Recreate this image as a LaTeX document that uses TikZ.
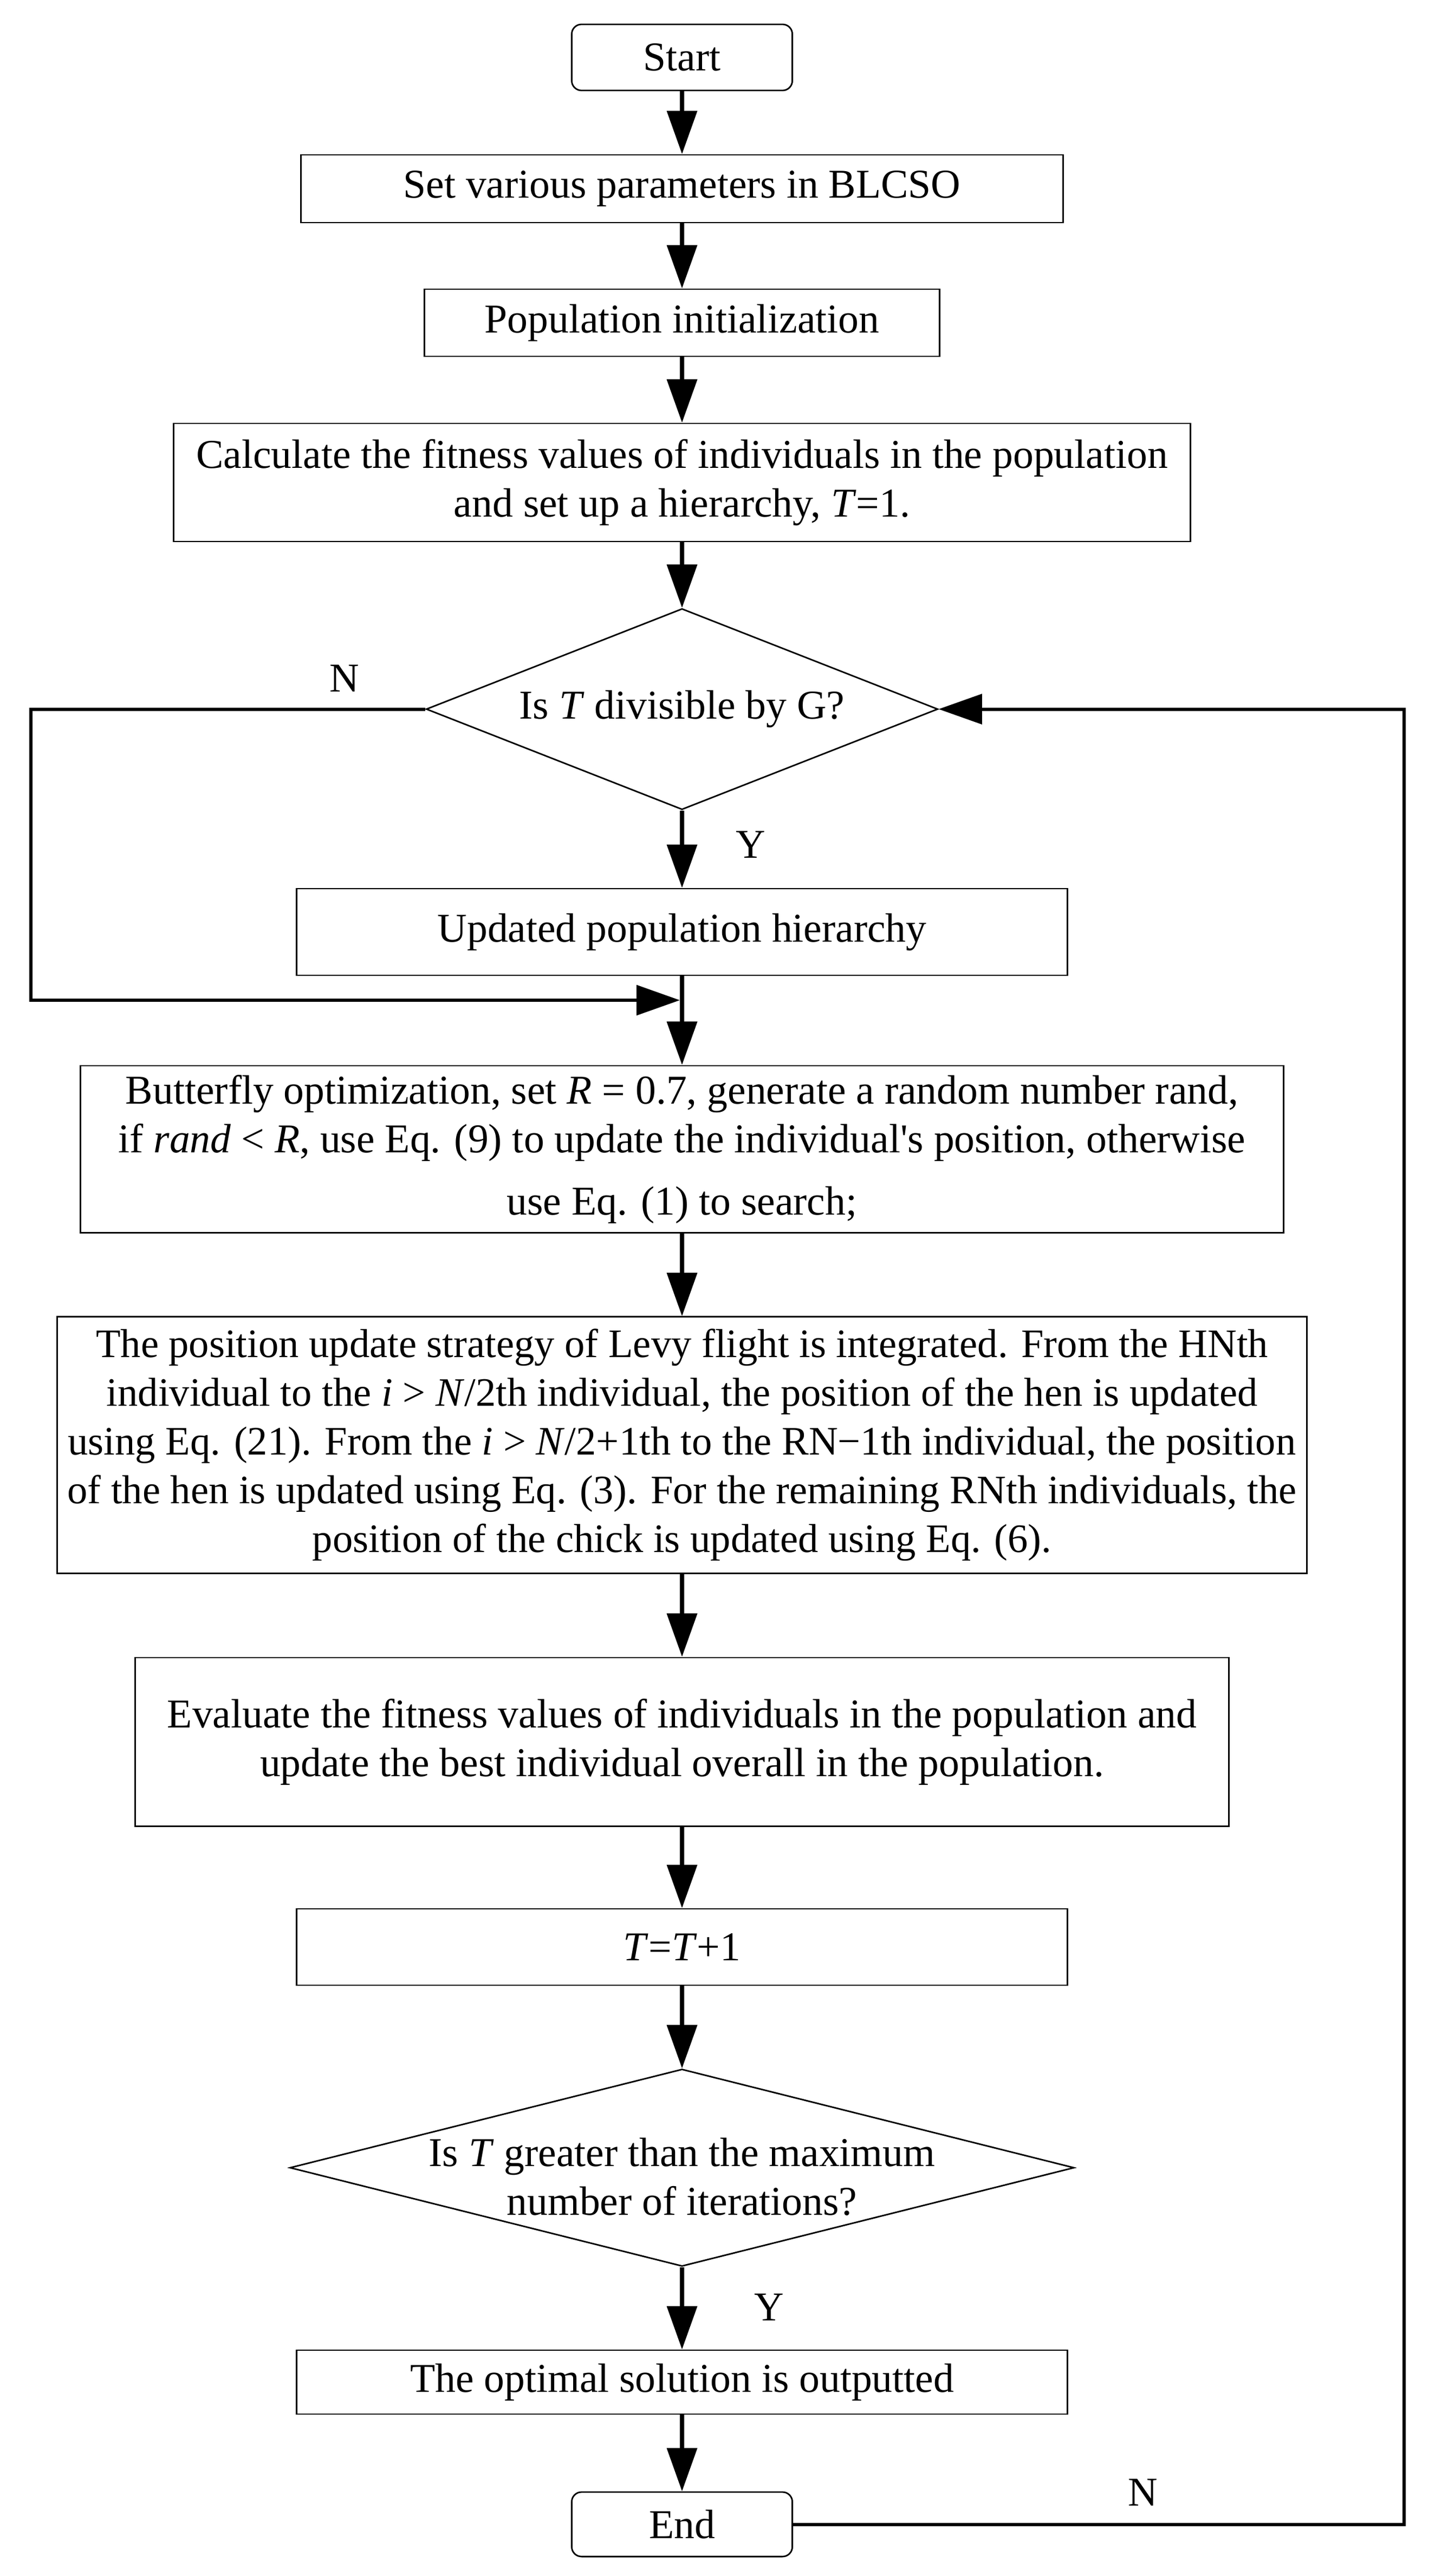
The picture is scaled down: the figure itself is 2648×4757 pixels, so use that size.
\documentclass[tikz,border=0pt]{standalone}
\usepackage{fontspec}
\setmainfont{Liberation Serif}
\usetikzlibrary{arrows.meta}
\usetikzlibrary{shapes.geometric}

\tikzset{
  box/.style={draw, line width=0.8pt, inner sep=0pt, align=center,
    font=\fontsize{21.5}{25.6}\selectfont},
  term/.style={box, rounded corners=0.18cm, minimum width=4.07cm},
  decide/.style={draw, line width=0.8pt, shape=diamond, inner sep=0pt},
  txt/.style={inner sep=0pt, align=center, font=\fontsize{21.5}{25.6}\selectfont},
  flow/.style={line width=2pt, -{Triangle[length=0.8cm,width=0.55cm]}},
  back/.style={line width=1.7pt, -{Triangle[length=0.8cm,width=0.55cm]}},
}

\begin{document}
\begin{tikzpicture}[x=0.01cm,y=0.01cm]
  \useasboundingbox (0,0) rectangle (2648,-4757);
  \path (1259,-106)
    node (start) [term, minimum height=1.22cm] {Start} ++(0,-242.5)
    node (par) [box, minimum width=14.06cm, minimum height=1.25cm]
      {Set various parameters in BLCSO} ++(0,-247.5)
    node (init) [box, minimum width=9.51cm, minimum height=1.24cm]
      {Population initialization} ++(0,-295)
    node (fit) [box, minimum width=18.76cm, minimum height=2.18cm]
      {Calculate the fitness values of individuals in the population\\
       and set up a hierarchy, \textit{T}=1.} ++(0,-418.5)
    node (div) [decide, minimum width=9.44cm, minimum height=3.71cm] {} ++(0,-411.5)
    node (hier) [box, minimum width=14.22cm, minimum height=1.60cm]
      {Updated population hierarchy} ++(0,-401)
    node (bfly) [box, minimum width=22.20cm, minimum height=3.08cm]
      {Butterfly optimization, set \textit{R} = 0.7, generate a random number rand,\\
       if \textit{rand} < \textit{R}, use Eq. (9) to update the individual\textquotesingle s position, otherwise\\[0.25cm]
       use Eq. (1) to search;} ++(0,-546.5)
    node (levy) [box, minimum width=23.05cm, minimum height=4.73cm,
      font=\fontsize{21.2}{25.6}\selectfont]
      {The position update strategy of Levy flight is integrated. From the HNth\\
       individual to the \textit{i} > \textit{N}/2th individual, the position of the hen is updated\\
       using Eq. (21). From the \textit{i} > \textit{N}/2+1th to the RN−1th individual, the position\\
       of the hen is updated using Eq. (3). For the remaining RNth individuals, the\\
       position of the chick is updated using Eq. (6).} ++(0,-548)
    node (eval) [box, minimum width=20.18cm, minimum height=3.11cm]
      {Evaluate the fitness values of individuals in the population and\\
       update the best individual overall in the population.} ++(0,-379)
    node (inc) [box, minimum width=14.22cm, minimum height=1.41cm]
      {\textit{T}=\textit{T}+1} ++(0,-407.5)
    node (max) [decide, minimum width=14.47cm, minimum height=3.64cm] {} ++(0,-396)
    node (out) [box, minimum width=14.22cm, minimum height=1.18cm]
      {The optimal solution is outputted} ++(0,-262.5)
    node (end) [term, minimum height=1.19cm] {End}
    ;
  \node (divtxt) [txt] at (div) {Is \textit{T} divisible by G?};
  \node (maxtxt) [txt] at ([yshift=-0.17cm]max.center)
    {Is \textit{T} greater than the maximum\\ number of iterations?};

  \draw[flow] (start) -- (par);
  \draw[flow] (par) -- (init);
  \draw[flow] (init) -- (fit);
  \draw[flow] (fit) -- (div);
  \draw[flow] (div) -- (hier);
  \draw[flow] (hier) -- (bfly);
  \draw[flow] (bfly) -- (levy);
  \draw[flow] (levy) -- (eval);
  \draw[flow] (eval) -- (inc);
  \draw[flow] (inc) -- (max);
  \draw[flow] (max) -- (out);
  \draw[flow] (out) -- (end);

  % N branch of the first test joins the main line
  \path (57,-1847) coordinate (lft);
  \path (1255,-1847) coordinate (join);
  \draw[back] (node cs:name=div,anchor=west) -| (lft) -- (join);
  % N branch of the second test goes back up
  \path (2592,-1309.5) coordinate (rgt);
  \draw[back] (node cs:name=end,anchor=east) -| (rgt) -- (div.east);

  \node (n1) [txt] at (636,-1253) {N};
  \node (y1) [txt] at (1386,-1560) {Y};
  \node (y2) [txt] at (1420,-4261) {Y};
  \node (n2) [txt] at (2110,-4603) {N};
\end{tikzpicture}
\end{document}
